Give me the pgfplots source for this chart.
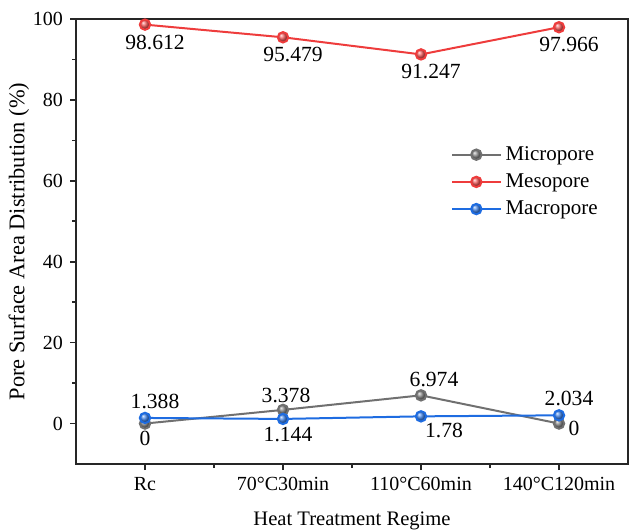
\documentclass[border=0pt]{standalone}
\usepackage{fontspec}
\setmainfont{Liberation Serif}
\usepackage{pgfplots}
\pgfplotsset{compat=1.18}
\definecolor{miGray}{RGB}{112,112,112}
\definecolor{meRed}{RGB}{238,60,60}
\definecolor{maBlue}{RGB}{30,108,225}

\pgfplotsset{
  % label-only plot: xshift, yshift (pt)
  lab/.style 2 args={
    forget plot, draw=none, mark=none,
    nodes near coords,
    point meta=explicit symbolic,
    every node near coord/.style={anchor=center, xshift=#1pt, yshift=#2pt,
        inner sep=0pt, font=\fontsize{10.8}{12}\selectfont, text=black},
  },
  ser/.style={#1, line width=1pt, mark=ball, mark size=2.6pt,
    mark options={ball color=#1!85!white}},
}

\begin{document}
\begin{tikzpicture}
\begin{axis}[
    name=ax,
    scale only axis,
    width=276pt, height=222.5pt,
    xmin=-0.5, xmax=3.5,
    ymin=-10, ymax=100,
    xtick={0,1,2,3},
    xticklabels={Rc,70°C30min,110°C60min,140°C120min},
    minor xtick={0.5,1.5,2.5},
    ytick={0,20,40,60,80,100},
    minor ytick={10,30,50,70,90},
    xtick pos=bottom, ytick pos=left,
    tick align=outside,
    major tick length=3pt, minor tick length=2pt,
    every tick/.style={black!85, line width=0.8pt},
    axis line style={line width=1pt, black!85},
    /pgf/number format/assume math mode=true,
    ticklabel style={font=\fontsize{10}{12}\selectfont},
    xlabel={Heat Treatment Regime},
    ylabel={Pore Surface Area Distribution (\%)},
    xlabel style={font=\fontsize{10.3}{12}\selectfont, yshift=-4pt},
    ylabel style={font=\fontsize{11.2}{12}\selectfont, yshift=-5pt},
    legend style={draw=none, fill=none, at={(0.668,0.733)}, anchor=north west,
        font=\fontsize{10.5}{12}\selectfont, row sep=1.2pt},
    legend cell align=left,
    legend image code/.code={
        \draw[#1, mark=none] (0cm,0cm) -- (0.85cm,0cm);
        \draw[#1, only marks] plot coordinates {(0.425cm,0cm)};
    },
]
\addplot[ser=miGray] coordinates {(0,0) (1,3.378) (2,6.974) (3,0)};
\addplot[ser=meRed] coordinates {(0,98.612) (1,95.479) (2,91.247) (3,97.966)};
\addplot[ser=maBlue] coordinates {(0,1.388) (1,1.144) (2,1.78) (3,2.034)};
\legend{Micropore, Mesopore, Macropore}

% value labels
\addplot[lab={0}{-7.5}]   coordinates {(0,0) [0]};
\addplot[lab={1.5}{7.3}]  coordinates {(1,3.378) [3.378]};
\addplot[lab={6.5}{8}]    coordinates {(2,6.974) [6.974]};
\addplot[lab={7.5}{-2.5}] coordinates {(3,0) [0]};
\addplot[lab={5}{-8.7}]   coordinates {(0,98.612) [98.612] (1,95.479) [95.479]
                                       (2,91.247) [91.247] (3,97.966) [97.966]};
\addplot[lab={5}{8.3}]    coordinates {(0,1.388) [1.388] (3,2.034) [2.034]};
\addplot[lab={2.5}{-7.8}] coordinates {(1,1.144) [1.144]};
\addplot[lab={11.5}{-7}]  coordinates {(2,1.78) [1.78]};
\end{axis}
\pgfresetboundingbox
\path ([shift={(-38pt,-33.5pt)}]ax.south west) rectangle ([shift={(1pt,9.5pt)}]ax.north east);
\end{tikzpicture}
\end{document}
